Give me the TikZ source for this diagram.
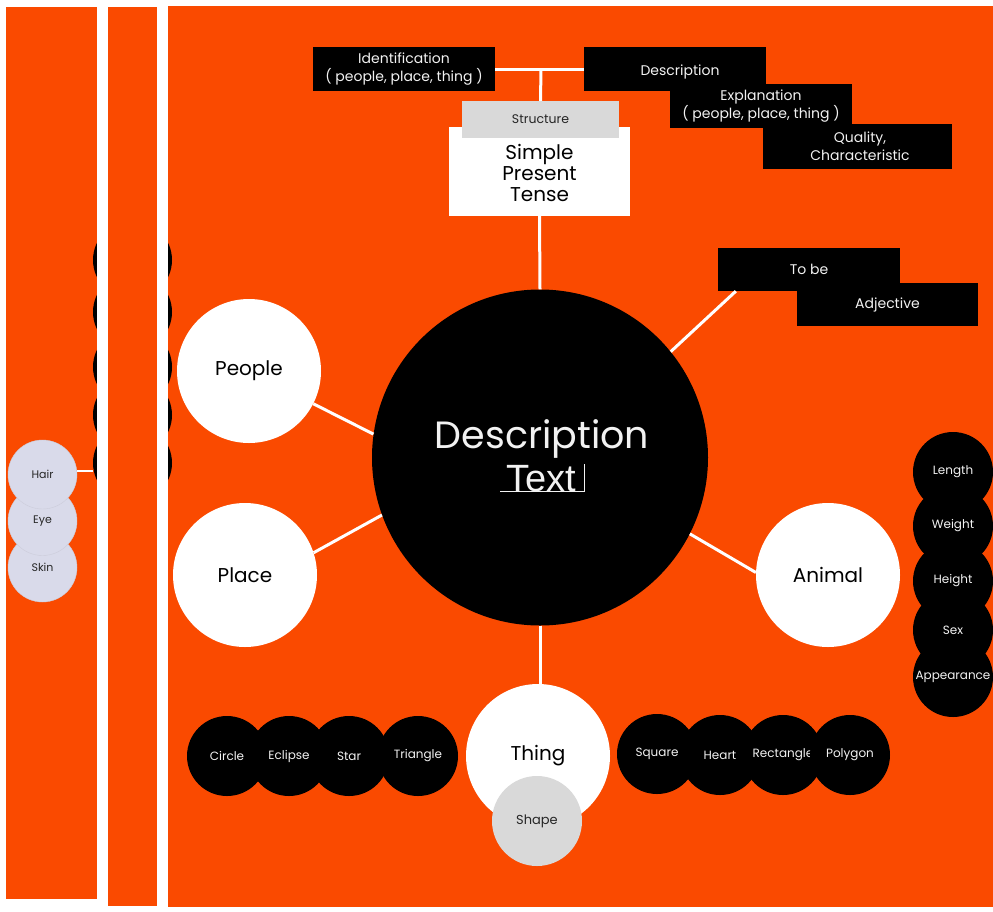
\documentclass[tikz,border=0pt]{standalone}
\usepackage{fontspec}
\setmainfont{Poppins}
\newfontfamily\arialf{Liberation Sans}
\definecolor{orng}{RGB}{250,74,0}
\definecolor{lav}{RGB}{217,218,234}
\definecolor{lgray}{RGB}{217,217,217}
\definecolor{offw}{RGB}{242,242,242}
\begin{document}
\begin{tikzpicture}[x=1pt,y=-1pt,
  ln/.style={draw=white, line width=3pt},
  bbox/.style={rectangle, fill=black, text=offw, align=center, inner sep=0pt, font=\fontsize{14}{18}\selectfont},
  bc/.style={circle, fill=black, text=offw, minimum size=80pt, inner sep=0pt, font=\fontsize{12}{14}\selectfont},
  wc/.style={circle, fill=white, text=black, minimum size=144pt, inner sep=0pt, font=\fontsize{20}{24}\selectfont},
  lc/.style={circle, fill=lav, draw=lav!85!gray, minimum size=69pt, inner sep=0pt, font=\fontsize{11}{13}\selectfont, text=black!85},
]
\useasboundingbox (0,0) rectangle (993,911);
\fill[white] (0,0) rectangle (993,911);
% panels
\fill[orng] (6,7) rectangle (97,899);
\fill[orng] (168,6) rectangle (993,907);
% hidden stack of black circles
\foreach \i/\y in {1/260,2/312,3/367,4/415,5/463}
  \node[bc, minimum size=79pt] (k\i) at (132.5,\y) {};
\fill[white] (97,0) rectangle (108,911);
\fill[white] (157,0) rectangle (168,911);
\fill[orng] (108,7) rectangle (157,906);

% lavender circles
\node[lc] (skin) at (42.5,567.5) {Skin};
\node[lc] (eye) at (42.5,521) {Eye};
\node[lc] (hair) at (42.5,474.5) {Hair};
\draw[draw=white, line width=2pt] ([yshift=4pt]hair.east) -- ++(16,0);

% top boxes
\node[bbox, minimum width=182pt, minimum height=44pt] (ident) at (404,69) {Identification\\( people, place, thing )};
\node[bbox, minimum width=182pt, minimum height=44pt] (descb) at (675,69) {\rule{0pt}{17pt}\hspace*{10pt}Description};
\node[bbox, minimum width=182pt, minimum height=44pt] (expl) at (761,106) {Explanation\\( people, place, thing )};
\node[bbox, minimum width=189pt, minimum height=45pt] (qual) at (857.5,146.5) {\hspace*{5pt}Quality,\\\hspace*{5pt}Characteristic};
\draw[ln] (ident.east) -- (descb.west);
\coordinate (jn) at (541,69);

\node[rectangle, fill=white, minimum width=181pt, minimum height=89pt, inner sep=0pt, align=center, text=black, font=\fontsize{20}{21}\selectfont] (spt) at (539.5,171.5) {\\[-2pt]Simple\\Present\\Tense};
\node[rectangle, fill=lgray, minimum width=157pt, minimum height=37pt, inner sep=0pt, text=black!85, font=\fontsize{12.5}{14}\selectfont] (struct) at (540.5,119.5) {Structure};
\draw[ln] (jn) -- (struct.north);

% to be / adjective
\node[bbox, minimum width=182pt, minimum height=43pt] (tobe) at (809,269.5) {To be};
\node[bbox, minimum width=181pt, minimum height=43pt] (adj) at (887.5,304.5) {Adjective};

% central circle
\node[circle, fill=black, minimum size=336pt, inner sep=0pt] (ctr) at (540,457.5) {};
\node[anchor=base, text=offw, inner sep=0pt, font=\fontsize{38}{40}\selectfont] (dtitle) at (542,448) {Description};
\node[anchor=base, text=offw, inner sep=0pt, font=\arialf\fontsize{38}{44}\selectfont] (dtext) at (541,491) {Text};
\draw[offw, line width=0.6pt] (500,491.5) -- (584,491.5) -- (584,464);

\draw[ln] (spt.south) -- (ctr.north);
\draw[ln] (ctr.39) -- ([xshift=18pt]tobe.south west);

% white circles
\node[wc] (people) at (249,371) {People};
\node[wc] (place) at (245,575) {Place};
\node[wc] (animal) at (828,575) {Animal};
\node[wc] (thing) at (538,756) {Thing};
\node[circle, fill=lgray, minimum size=90pt, inner sep=0pt, text=black!85, font=\fontsize{13}{15}\selectfont] (shape) at (537,821) {Shape};

\draw[ln] (people.-27) -- (ctr.172);
\draw[ln] (place.18) -- (ctr.-160);
\draw[ln] (animal.178) -- (ctr.-27.5);
\draw[ln] (ctr.south) -- (ctr.south |- thing.north);

% right stack
\node[bc] (length) at (953,472) {Length};
\node[bc] (weight) at (953,526) {Weight};
\node[bc] (height) at (953,581) {Height};
\node[bc] (sex) at (953,630) {Sex};
\node[bc] (appear) at (953,677) {Appearance};

% bottom left
\node[bc] (circ) at (227,756) {Circle};
\node[bc] (ecl) at (289,756) {Eclipse};
\node[bc] (star) at (349,756) {Star};
\node[bc] (tri) at (418,756) {Triangle};

% bottom right
\node[bc] (square) at (657,754) {Square};
\node[bc] (heart) at (720,755) {Heart};
\node[bc] (rect) at (783,755) {Rectangle};
\node[bc] (poly) at (850,755) {Polygon};
\end{tikzpicture}
\end{document}
